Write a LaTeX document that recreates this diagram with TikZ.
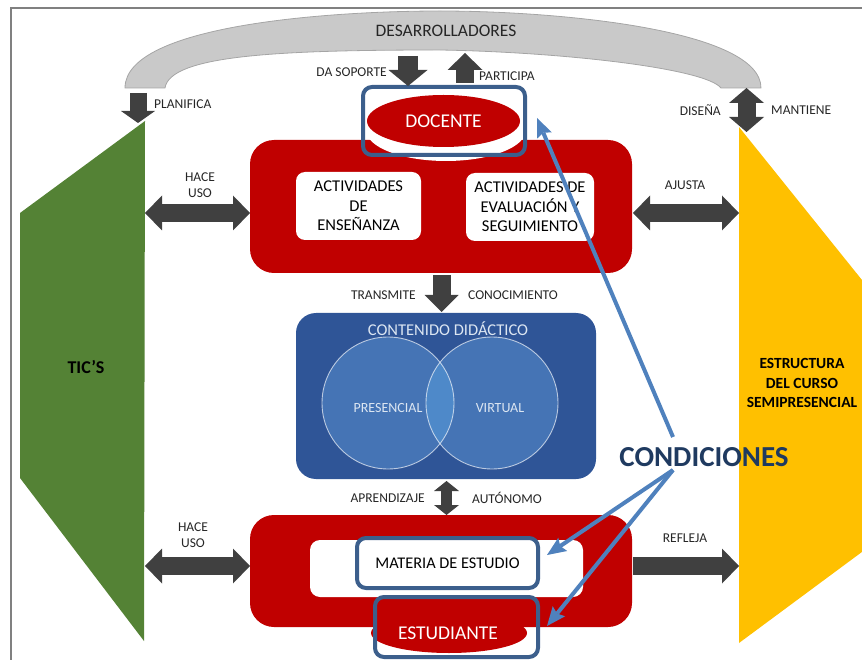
\documentclass[tikz,border=0pt]{standalone}
\usepackage{fontspec}
\setmainfont{Carlito}
\usetikzlibrary{arrows.meta,shapes.geometric}

\definecolor{panelred}{RGB}{192,0,0}
\definecolor{arrowgray}{RGB}{64,64,64}
\definecolor{archgray}{RGB}{201,201,201}
\definecolor{archline}{RGB}{165,165,165}
\definecolor{framegray}{RGB}{128,128,128}
\definecolor{navybox}{RGB}{47,85,151}
\definecolor{circfill}{RGB}{69,116,181}
\definecolor{lensfill}{RGB}{78,137,201}
\definecolor{ringblue}{RGB}{60,95,140}
\definecolor{callout}{RGB}{79,129,189}
\definecolor{condtext}{RGB}{31,58,96}
\definecolor{ticgreen}{RGB}{84,130,53}
\definecolor{structyellow}{RGB}{255,192,0}
\definecolor{paletext}{RGB}{220,230,242}
\definecolor{inkgray}{RGB}{38,38,38}

\begin{document}
\begin{tikzpicture}[x=1pt,y=-1pt,
  lbl/.style={font=\fontsize{13.5}{16}\selectfont, text=inkgray, inner sep=0pt, align=center},
  redpanel/.style={fill=panelred, rounded corners=24pt, inner sep=0pt},
  whitebox/.style={fill=white, rounded corners=9pt, inner sep=0pt, align=center,
    font=\fontsize{16.5}{19.5}\selectfont, text=black},
  bluering/.style={draw=ringblue, line width=4pt, rounded corners=9pt, inner sep=0pt},
  blockone/.style={draw=arrowgray, line width=18pt,
    -{Triangle[length=17pt,width=35pt,line width=0pt]}},
  blockboth/.style={draw=arrowgray, line width=18pt,
    {Triangle[length=17pt,width=35pt,line width=0pt]}-{Triangle[length=17pt,width=35pt,line width=0pt]}},
  callarrow/.style={draw=callout, line width=4pt,
    -{Stealth[length=19pt,width=16pt,inset=3pt,line width=0pt]}},
  bigtext/.style={font=\bfseries\fontsize{15.5}{19.5}\selectfont, text=black, align=center, inner sep=0pt}
]
\useasboundingbox (0,0) rectangle (862,660);
\begin{scope}
\clip (0,0) rectangle (862,660);

% page frame
\draw[framegray, line width=2pt] (11,662) -- (11,8) -- (864,8);

% developers arch
\filldraw[fill=archgray, draw=archline, line width=0.8pt]
  (125,88) .. controls (125,25) and (330,11) .. (440,11)
  .. controls (560,11) and (761,30) .. (761,88) -- (721,88)
  .. controls (705,68) and (560,52) .. (440,50)
  .. controls (280,50) and (170,55) .. (165,88) -- cycle;
\node[font=\fontsize{17.5}{20}\selectfont, text=inkgray, inner sep=0pt] (dev) at (446,31) {DESARROLLADORES};

% side blocks
\fill[ticgreen] (145,121) -- (20,213) -- (20,478) -- (144,641) -- cycle;
\node[font=\bfseries\fontsize{18}{20}\selectfont, text=black, inner sep=0pt] (tics) at (86,367) {TIC’S};
\fill[structyellow] (739,127) -- (870,290) -- (870,546) -- (739,643) -- cycle;
\node[bigtext] (struct) at (802,383) {ESTRUCTURA\\DEL CURSO\\SEMIPRESENCIAL};

% teaching panel
\node[redpanel, minimum width=382pt, minimum height=133pt] (teach) at (441,206.5) {};
\node[whitebox, minimum width=125pt, minimum height=68pt] (ens) at (358.5,206) {ACTIVIDADES\\DE\\ENSEÑANZA};
\node[whitebox, minimum width=128pt, minimum height=68pt] (eval) at (530,207) {ACTIVIDADES DE\\EVALUACIÓN Y\\SEGUIMIENTO};

% teacher
\fill[white] (446,130) ellipse [x radius=80, y radius=31];
\node[ellipse, fill=panelred, minimum width=153pt, minimum height=52pt, inner sep=0pt,
  font=\fontsize{19.5}{22}\selectfont, text=white] (doc) at (443.5,121) {DOCENTE};
\node[bluering, minimum width=162pt, minimum height=68pt] (docring) at (444,121) {};

% content block
\node[fill=navybox, rounded corners=20pt, minimum width=300pt, minimum height=166pt, inner sep=0pt] (cont) at (446,396) {};
\node[font=\fontsize{16.5}{19}\selectfont, text=paletext, inner sep=0pt] (conttitle) at (448,329) {CONTENIDO DIDÁCTICO};
\fill[circfill] (388,403) circle [radius=66];
\fill[circfill] (492,403) circle [radius=66];
\begin{scope}
  \clip (388,403) circle [radius=66];
  \fill[lensfill] (492,403) circle [radius=66];
\end{scope}
\draw[white, opacity=0.65, line width=0.9pt] (388,403) circle [radius=66];
\draw[white, opacity=0.65, line width=0.9pt] (492,403) circle [radius=66];
\node[font=\fontsize{14}{16}\selectfont, text=paletext, inner sep=0pt] (pres) at (388,408) {PRESENCIAL};
\node[font=\fontsize{14}{16}\selectfont, text=paletext, inner sep=0pt] (virt) at (500,408) {VIRTUAL};

% learning panel
\node[redpanel, minimum width=382pt, minimum height=112pt] (learn) at (441,571) {};
\node[fill=white, rounded corners=10pt, minimum width=273pt, minimum height=57pt, inner sep=0pt] (bar) at (446.5,568.5) {};
\node[bluering, fill=white, minimum width=181pt, minimum height=50pt,
  font=\fontsize{16.3}{19}\selectfont, text=black] (mat) at (447.5,563) {MATERIA DE ESTUDIO};
\node[ellipse, fill=panelred, minimum width=156pt, minimum height=40pt, inner sep=0pt] (stud) at (449,633) {};
\node[font=\fontsize{19.5}{22}\selectfont, text=white, inner sep=0pt] (studtext) at (448,633) {ESTUDIANTE};
\node[bluering, minimum width=163pt, minimum height=60pt] (studring) at (456.5,627) {};

% connector end points
\coordinate (archL) at (138,93);   \coordinate (ticsTop) at (138,123);
\coordinate (devA) at (408,56);    \coordinate (docA) at (408,86);
\coordinate (docB) at (465,83);    \coordinate (devB) at (465,53);
\coordinate (archR) at (746.5,88); \coordinate (structTop) at (746.5,132);
\coordinate (ticsE1) at (145,213); \coordinate (teachW) at (250,213);
\coordinate (teachE) at (633,213); \coordinate (structW1) at (739,213);
\coordinate (teachS) at (441.5,275); \coordinate (contN) at (441.5,312);
\coordinate (contS) at (446.5,481); \coordinate (learnN) at (446.5,515);
\coordinate (ticsE2) at (145,566); \coordinate (learnW) at (250,566);
\coordinate (learnE) at (633,566); \coordinate (structW2) at (739,566);

% block arrows
\draw[draw=arrowgray, line width=17pt, -{Triangle[length=12pt,width=34pt,line width=0pt]}] (archL) -- (ticsTop);
\draw[draw=arrowgray, line width=20pt, -{Triangle[length=16pt,width=39pt,line width=0pt]}] (devA) -- (docA);
\draw[blockone] (docB) -- (devB);
\draw[draw=arrowgray, line width=18pt,
  {Triangle[length=15pt,width=35pt,line width=0pt]}-{Triangle[length=15pt,width=35pt,line width=0pt]}] (archR) -- (structTop);
\draw[blockboth] (ticsE1) -- (teachW);
\draw[blockboth] (teachE) -- (structW1);
\draw[draw=arrowgray, line width=18pt, -{Triangle[length=17pt,width=34pt,line width=0pt]}] (teachS) -- (contN);
\draw[draw=arrowgray, line width=11pt,
  {Triangle[length=10pt,width=25pt,line width=0pt]}-{Triangle[length=10pt,width=25pt,line width=0pt]}] (contS) -- (learnN);
\draw[blockboth] (ticsE2) -- (learnW);
\draw[blockone] (learnE) -- (structW2);

% arrow labels
\node[lbl, anchor=west] (planifica) at (154,104) {PLANIFICA};
\node[lbl, anchor=east] (soporte) at (387,72) {DA SOPORTE};
\node[lbl, anchor=west] (participa) at (479,76) {PARTICIPA};
\node[lbl, anchor=east] (disena) at (721,110) {DISEÑA};
\node[lbl, anchor=west] (mantiene) at (771,110) {MANTIENE};
\node[lbl] (uso1) at (200,185) {HACE\\USO};
\node[lbl] (ajusta) at (685,185) {AJUSTA};
\node[lbl, anchor=east] (transmite) at (416,295) {TRANSMITE};
\node[lbl, anchor=west] (conoc) at (468,295) {CONOCIMIENTO};
\node[lbl, anchor=east] (aprend) at (425,498) {APRENDIZAJE};
\node[lbl, anchor=west] (auton) at (472,498) {AUTÓNOMO};
\node[lbl] (uso2) at (193,535) {HACE\\USO};
\node[lbl] (refleja) at (685,538) {REFLEJA};

% conditions callouts
\node[font=\bfseries\fontsize{29}{32}\selectfont, text=condtext, inner sep=0pt] (cond) at (704,457) {CONDICIONES};
\coordinate (condN) at (673,437);
\coordinate (condS) at (673,470);
\coordinate (docTip) at (537,118);
\coordinate (matTip) at (547,555);
\coordinate (studTip) at (547,626);
\draw[callarrow] (condN) -- (docTip);
\draw[callarrow] (condS) -- (matTip);
\draw[callarrow] (condS) -- (studTip);
\end{scope}
\end{tikzpicture}
\end{document}
